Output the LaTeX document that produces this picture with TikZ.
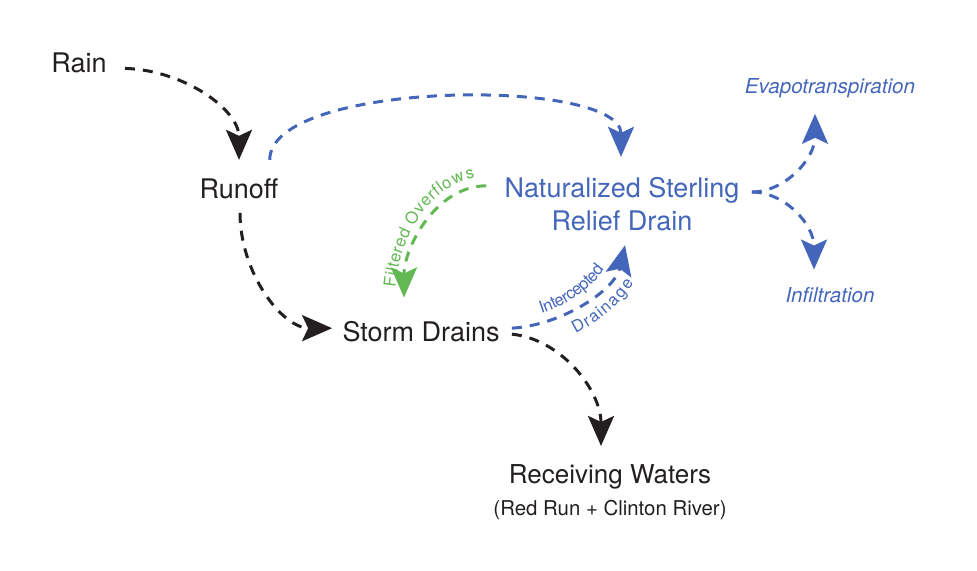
\documentclass[tikz,border=0pt]{standalone}
\usepackage{fontspec}
\setmainfont{TeX Gyre Heros}
\usepackage{xcolor}
\usepackage{tikz}
\usetikzlibrary{arrows.meta, calc, decorations.text}
\definecolor{ink}{RGB}{35,31,32}
\definecolor{drain}{RGB}{68,102,186}
\definecolor{overflow}{RGB}{98,184,82}
\tikzset{
  stage/.style={
    inner sep=0pt, text=ink, font=\fontsize{13.5}{16.5}\selectfont
  },
  natural/.style={stage, text=drain, align=center},
  outlet/.style={inner sep=0pt, text=drain, font=\fontsize{10.3}{12}\selectfont\itshape},
  flow/.style={
    color=ink, line width=1.5pt, dash pattern=on 5pt off 4pt,
    -{Stealth[length=15pt, width=13pt, inset=3pt]}
  },
  blueflow/.style={flow, color=drain},
  greenflow/.style={flow, color=overflow},
  tag/.style 2 args={
    decorate, decoration={text along path, text color=#1, raise=#2,
      text align=center}
  },
}
\begin{document}
\begin{tikzpicture}[x=0.5pt, y=-0.5pt]
  \useasboundingbox (0,0) rectangle (977,570);

  \node[stage, anchor=base] (rain) at (79,72) {Rain};
  \node[stage, anchor=base] (runoff) at (239,198) {Runoff};
  \node[stage, anchor=base] (storm) at (421,341) {Storm Drains};
  \node[natural] (relief) at (622,204) {Naturalized Sterling\\Relief Drain};
  \node[stage, align=center, font=\fontsize{13}{16}\selectfont] (waters) at (610,492)
    {Receiving Waters\\{\fontsize{10.2}{12}\selectfont (Red Run + Clinton River)}};
  \node[outlet, anchor=base] (evapo) at (830,93) {Evapotranspiration};
  \node[outlet, anchor=base] (infil) at (830,302) {Infiltration};

  % runoff path
  \draw[flow] ($(rain.east)+(18,6)$) .. controls +(60,2) and +(0,-50) .. ($(runoff.north)+(0,-18)$);
  \draw[flow] ($(runoff.south)+(1,14)$) .. controls +(0,60) and +(-50,0) .. ($(storm.west)+(-10,-3)$);
  \draw[flow] ($(storm.east)+(12,3)$) .. controls +(50,5) and +(0,-55) .. ($(waters.north)+(-9,-18)$);

  % relief drain
  \draw[blueflow] ($(runoff.north east)+(-9,-18)$) .. controls +(0,-80) and +(0,-80) .. ($(relief.north)+(-1,-20)$);
  \draw[greenflow] ($(relief.north west)+(-18,9)$) .. controls +(-50,0) and +(0,-50) .. ($(storm.north)+(-17,-23)$);
  \path[tag={overflow}{4.5pt}, decoration={text={|\fontsize{8.3}{10}\selectfont|Filtered Overflows}}]
    ($(storm.north)+(-17,-23)$) .. controls +(0,-50) and +(-50,0) .. ($(relief.north west)+(-18,9)$);
  \draw[blueflow] ($(storm.east)+(12,-3)$) .. controls +(50,-3) and +(-10,45) .. ($(relief.south)+(3,14)$);
  \path[tag={drain}{4.5pt}, decoration={text={|\fontsize{8.3}{10}\selectfont|Intercepted}}]
    ($(storm.east)+(12,-3)$) .. controls +(50,-3) and +(-10,45) .. ($(relief.south)+(3,14)$);
  \path[tag={drain}{-11.5pt}, decoration={text={|\fontsize{8.3}{10}\selectfont|Drainage}, text align={left indent=14pt}}]
    ($(storm.east)+(12,-3)$) .. controls +(50,-3) and +(-10,45) .. ($(relief.south)+(3,14)$);

  % outlets
  \draw[blueflow] ($(relief.east)+(12,-12)$) .. controls +(33,0) and +(0,45) .. ($(evapo.south)+(-15,16)$);
  \draw[blueflow] ($(relief.east)+(12,-12)$) .. controls +(33,0) and +(0,-45) .. ($(infil.north)+(-16,-17)$);
\end{tikzpicture}
\end{document}
